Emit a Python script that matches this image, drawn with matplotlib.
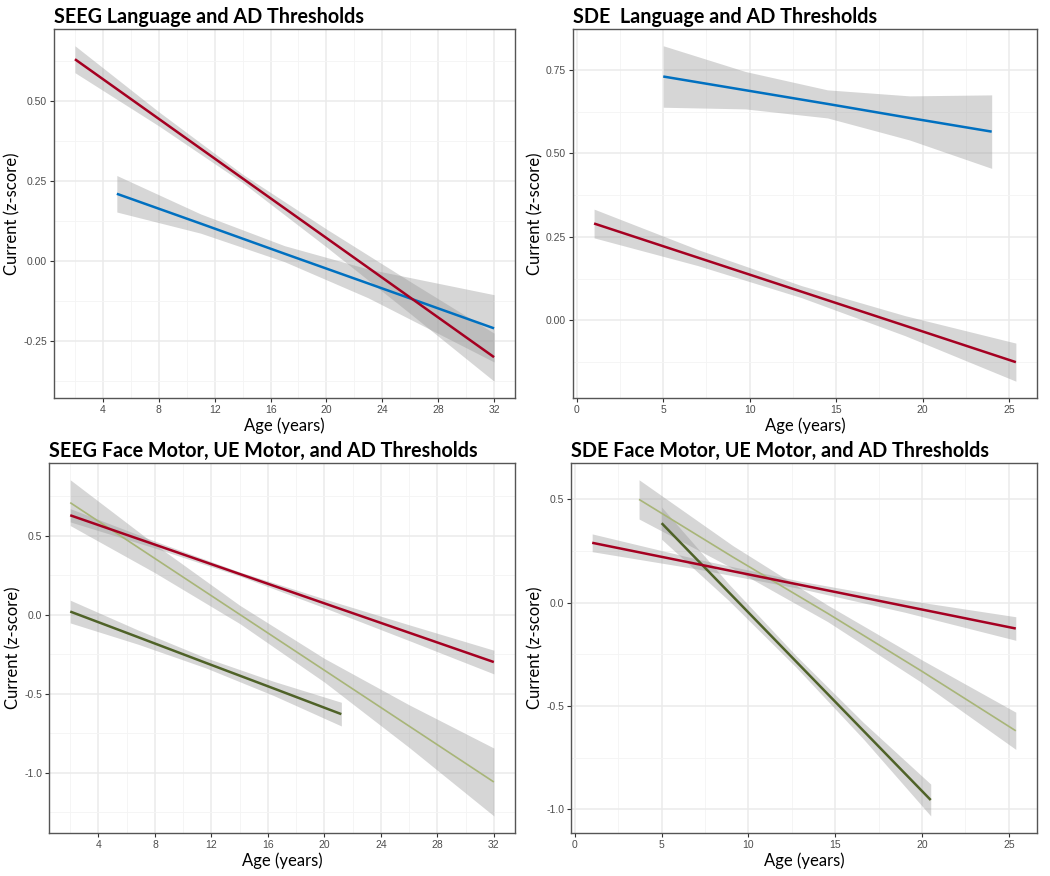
import numpy as np
import matplotlib
matplotlib.use("Agg")
import matplotlib.pyplot as plt

# values (fit line and half-width of the grey band)
# SEEG AD thresholds
seeg_ad_x = [2, 8, 14, 20, 26, 32]
seeg_ad_fit = [0.63, 0.444, 0.258, 0.072, -0.114, -0.30]
seeg_ad_hw = [0.042, 0.022, 0.013, 0.028, 0.05, 0.075]

# SEEG language
seeg_lang_x = [5, 11, 17, 23, 32]
seeg_lang_fit = [0.21, 0.117, 0.023, -0.070, -0.21]
seeg_lang_hw = [0.057, 0.030, 0.025, 0.045, 0.105]

# SDE AD thresholds
sde_ad_x = [1, 7, 13, 19, 25.4]
sde_ad_fit = [0.29, 0.188, 0.086, -0.016, -0.125]
sde_ad_hw = [0.043, 0.024, 0.018, 0.030, 0.057]

# SDE language
sde_lang_x = [5, 9.75, 14.5, 19.25, 24]
sde_lang_fit = [0.73, 0.689, 0.648, 0.606, 0.565]
sde_lang_hw = [0.092, 0.056, 0.042, 0.066, 0.110]

# SEEG face motor (light) and UE motor (dark)
seeg_face_x = [2, 8, 14, 20, 26, 32]
seeg_face_fit = [0.71, 0.356, 0.002, -0.352, -0.706, -1.06]
seeg_face_hw = [0.145, 0.09, 0.058, 0.075, 0.135, 0.215]

seeg_ue_x = [2, 6.8, 11.6, 16.4, 21.2]
seeg_ue_fit = [0.02, -0.142, -0.305, -0.467, -0.63]
seeg_ue_hw = [0.072, 0.045, 0.032, 0.045, 0.075]

# SDE face motor (light) and UE motor (dark)
sde_face_x = [3.7, 9.125, 14.55, 19.975, 25.4]
sde_face_fit = [0.50, 0.22, -0.051, -0.331, -0.62]
sde_face_hw = [0.095, 0.055, 0.040, 0.055, 0.090]

sde_ue_x = [5, 8.875, 12.75, 16.625, 20.5]
sde_ue_fit = [0.385, 0.05, -0.285, -0.62, -0.955]
sde_ue_hw = [0.078, 0.040, 0.028, 0.040, 0.077]

titles = ["SEEG Language and AD Thresholds",
          "SDE  Language and AD Thresholds",
          "SEEG Face Motor, UE Motor, and AD Thresholds",
          "SDE Face Motor, UE Motor, and AD Thresholds"]

RED = "#A50021"
BLUE = "#0070C0"
DKGREEN = "#4F6228"
LTGREEN = "#A8B578"

panels = [
    [(seeg_lang_x, seeg_lang_fit, seeg_lang_hw, BLUE, 1.8),
     (seeg_ad_x, seeg_ad_fit, seeg_ad_hw, RED, 1.8)],
    [(sde_lang_x, sde_lang_fit, sde_lang_hw, BLUE, 1.8),
     (sde_ad_x, sde_ad_fit, sde_ad_hw, RED, 1.8)],
    [(seeg_face_x, seeg_face_fit, seeg_face_hw, LTGREEN, 1.2),
     (seeg_ue_x, seeg_ue_fit, seeg_ue_hw, DKGREEN, 1.8),
     (seeg_ad_x, seeg_ad_fit, seeg_ad_hw, RED, 1.8)],
    [(sde_face_x, sde_face_fit, sde_face_hw, LTGREEN, 1.2),
     (sde_ue_x, sde_ue_fit, sde_ue_hw, DKGREEN, 1.8),
     (sde_ad_x, sde_ad_fit, sde_ad_hw, RED, 1.8)],
]

xticks = [np.arange(4, 33, 4), np.arange(0, 26, 5), np.arange(4, 33, 4), np.arange(0, 26, 5)]
yticks = [[-0.25, 0, 0.25, 0.5], [0, 0.25, 0.5, 0.75], [-1.0, -0.5, 0.0, 0.5], [-1.0, -0.5, 0.0, 0.5]]
yfmt = ["{:.2f}", "{:.2f}", "{:.1f}", "{:.1f}"]

boxes = [[0.0514, 0.5457, 0.4391, 0.4212],
         [0.5457, 0.5457, 0.4419, 0.4212],
         [0.0467, 0.0494, 0.4438, 0.4221],
         [0.5438, 0.0494, 0.4438, 0.4221]]

fig = plt.figure(figsize=(10.5, 8.76), dpi=100)

for i, series in enumerate(panels):
    ax = fig.add_axes(boxes[i])
    xs_all, ys_all = [], []
    for x, fit, hw, col, lw in series:
        x = np.array(x)
        fit = np.array(fit)
        hw = np.array(hw)
        ax.fill_between(x, fit - hw, fit + hw, color="#999999", alpha=0.4, lw=0, zorder=2)
        xs_all += list(x)
        ys_all += list(fit - hw) + list(fit + hw)
    for x, fit, hw, col, lw in series:
        ax.plot(x, fit, color=col, lw=lw, zorder=3, solid_capstyle="butt")

    # ggplot style 5% expansion
    x0, x1 = min(xs_all), max(xs_all)
    y0, y1 = min(ys_all), max(ys_all)
    dx, dy = (x1 - x0) * 0.05, (y1 - y0) * 0.05

    xt = xticks[i]
    yt = np.array(yticks[i])
    ax.set_xticks(xt)
    ax.set_xticklabels([str(v) for v in xt])
    ax.set_yticks(yt)
    ax.set_yticklabels([yfmt[i].format(v) for v in yt])
    xstep = xt[1] - xt[0]
    ystep = yt[1] - yt[0]
    ax.set_xticks(np.arange(xt[0] - xstep / 2, xt[-1] + xstep, xstep), minor=True)
    ax.set_yticks(np.arange(yt[0] - ystep / 2, yt[-1] + ystep, ystep), minor=True)
    ax.set_xlim(x0 - dx, x1 + dx)
    ax.set_ylim(y0 - dy, y1 + dy)

    ax.grid(which="major", color="#EBEBEB", lw=1.1, zorder=0)
    ax.grid(which="minor", color="#F4F4F4", lw=0.6, zorder=0)
    ax.set_axisbelow(True)
    ax.tick_params(which="major", length=3, width=0.8, color="#333333",
                   labelsize=7.5, labelcolor="#4D4D4D", pad=2)
    ax.tick_params(which="minor", length=0)
    for lab in ax.get_xticklabels() + ax.get_yticklabels():
        lab.set_family("Liberation Sans")
    for s in ax.spines.values():
        s.set_color("#555555")
        s.set_linewidth(1.0)

    ax.set_xlabel("Age (years)", family="Lato", fontsize=12, labelpad=2)
    ax.set_ylabel("Current (z-score)", family="Lato", fontsize=12, labelpad=2)
    ax.set_title(titles[i], loc="left", family="Lato", fontweight="bold",
                 fontsize=14.2, pad=4)

fig.savefig("out.png", dpi=100)
